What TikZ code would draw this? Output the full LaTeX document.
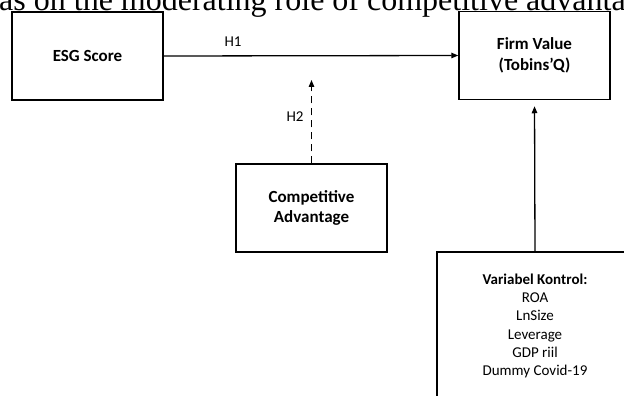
\documentclass[tikz,border=0pt]{standalone}
\usepackage{fontspec}
\setmainfont{Carlito}
\newfontfamily\titlefont{Liberation Serif}
\usetikzlibrary{arrows.meta}

\begin{document}
\begin{tikzpicture}[x=1pt,y=-1pt,
        box/.style={draw,line width=1.5pt,minimum width=151pt,minimum height=88pt,
            inner sep=0pt,align=center,font=\fontsize{17}{20.5}\selectfont\bfseries},
        arr/.style={line width=1.3pt,-{Triangle[length=7pt,width=5.5pt]}},
        lbl/.style={inner sep=0pt,font=\fontsize{15}{18}\selectfont}]
        \useasboundingbox (0,0) rectangle (624,396);
        \clip (0,0) rectangle (624,396);

        % title line, cut by the page edge
        \node[anchor=base west,inner sep=0pt,font=\titlefont\fontsize{32}{36}\selectfont] (title) at (-1,11) {as on the moderating role of competitive advantage};

        \node[box] (esg) at (87.5,56) {ESG Score};
        \node[box] (firm) at (534.5,55.5) {Firm Value\\(Tobins'Q)};
        \node[box] (comp) at (311.5,208) {Competitive\\Advantage};
        \node[box,minimum width=196pt,minimum height=148pt,font=\fontsize{15}{18.3}\selectfont] (ctrl) at (535,326)
            {\textbf{Variabel Kontrol:}\\ROA\\LnSize\\Leverage\\GDP riil\\Dummy Covid-19};

        \coordinate (mod) at (311.5,80);

        \draw[arr] (esg.east) -- (firm.west);
        \draw[arr,dash pattern=on 7pt off 5pt] (comp.north) -- (mod);
        \draw[arr,shorten >=6pt] (ctrl.north) -- (firm.south);

        \node[lbl] (h1) at (233,42) {H1};
        \node[lbl] (h2) at (295,117) {H2};
    \end{tikzpicture}
\end{document}
